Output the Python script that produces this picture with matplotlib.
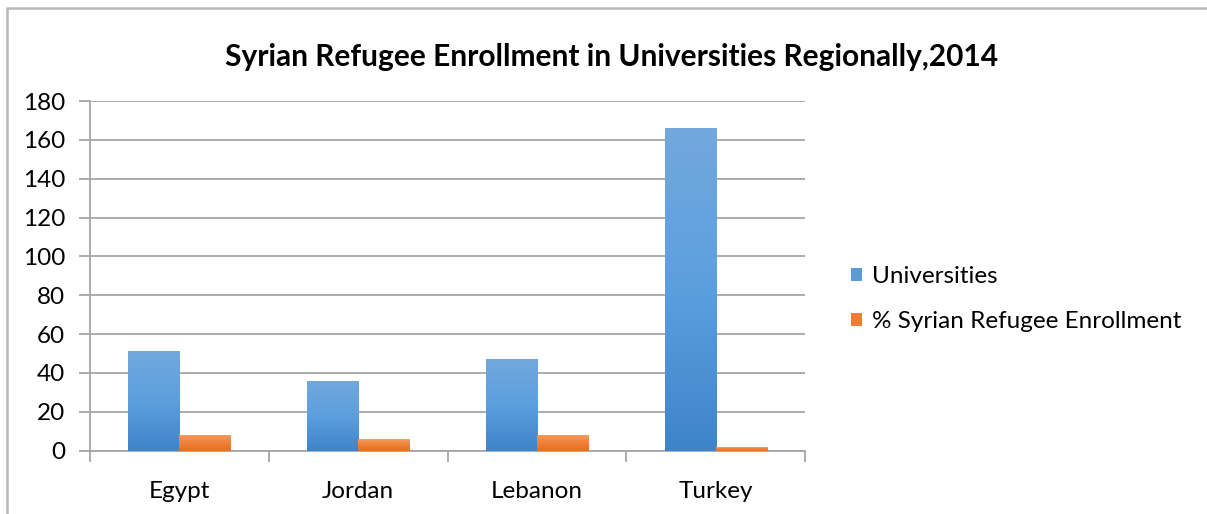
import numpy as np
import matplotlib
matplotlib.use("Agg")
from matplotlib import pyplot as plt
from matplotlib.colors import LinearSegmentedColormap
from matplotlib.patches import Rectangle, Patch

countries = ['Egypt', 'Jordan', 'Lebanon', 'Turkey']
universities = [51, 36, 47, 166]
enrollment_pct = [8, 6, 8, 2]
series_names = ['Universities', '% Syrian Refugee Enrollment']
title = 'Syrian Refugee Enrollment in Universities Regionally,2014'

plt.rcParams['font.family'] = ['Lato', 'DejaVu Sans']

blue_cm = LinearSegmentedColormap.from_list('b', ['#3f84c8', '#5c9fdf', '#72a8dd'])
orange_cm = LinearSegmentedColormap.from_list('o', ['#e5701f', '#f08038', '#f49a5e'])
grid_col = '#a6a6a6'


def gradient_bars(ax, bars, cmap):
    grad = np.linspace(0, 1, 256).reshape(-1, 1)
    for b in bars:
        x0, y0 = b.get_x(), b.get_y()
        w, h = b.get_width(), b.get_height()
        ax.imshow(grad, cmap=cmap, origin='lower', aspect='auto',
                  extent=[x0, x0 + w, y0, y0 + h], zorder=3)
        b.set_alpha(0)


fig = plt.figure(figsize=(12.07, 5.14), dpi=100)
ax = fig.add_axes([90 / 1207, 1 - 450.7 / 514, 715 / 1207, 349.7 / 514])

x = np.arange(len(countries))
width = 1 / 3.5
b1 = ax.bar(x - width / 2, universities, width, color='#5b9bd5', zorder=3)
b2 = ax.bar(x + width / 2, enrollment_pct, width, color='#ed7d31', zorder=3)
gradient_bars(ax, b1, blue_cm)
gradient_bars(ax, b2, orange_cm)

ax.set_xlim(-0.5, len(countries) - 0.5)
ax.set_ylim(0, 180)
ax.set_yticks(np.arange(0, 181, 20))
ax.yaxis.grid(True, color=grid_col, linewidth=1.3, zorder=0)
ax.set_axisbelow(True)

# category labels in the middle, tick marks on the boundaries
ax.set_xticks(x)
ax.set_xticklabels(countries)
ax.set_xticks(np.arange(-0.5, len(countries)), minor=True)
ax.tick_params(axis='x', which='major', length=0, pad=22, labelsize=17.5)
ax.tick_params(axis='x', which='minor', length=8, width=1.3, color=grid_col)
ax.tick_params(axis='y', length=8, width=1.3, color=grid_col, pad=10, labelsize=17.5)

for side in ['top', 'right']:
    ax.spines[side].set_visible(False)
for side in ['left', 'bottom']:
    ax.spines[side].set_color(grid_col)
    ax.spines[side].set_linewidth(1.3)

fig.text(612 / 1207, 1 - 57 / 514, title, ha='center', va='center',
         fontsize=21.5, fontweight='bold')

handles = [Patch(facecolor='#5b9bd5'), Patch(facecolor='#ed7d31')]
fig.legend(handles, series_names, loc='center left',
           bbox_to_anchor=(829 / 1207, 1 - 299 / 514), frameon=False,
           fontsize=17.5, handlelength=0.45, handleheight=0.45,
           handletextpad=0.4, labelspacing=0.97)

# chart area frame
fig.patches.append(Rectangle((6.5 / 1207, -0.1), 1.2, 1 - 8 / 514 + 0.1,
                             transform=fig.transFigure, fill=False,
                             edgecolor='#b8b8b8', linewidth=1.8))

fig.savefig('out.png', dpi=100)
